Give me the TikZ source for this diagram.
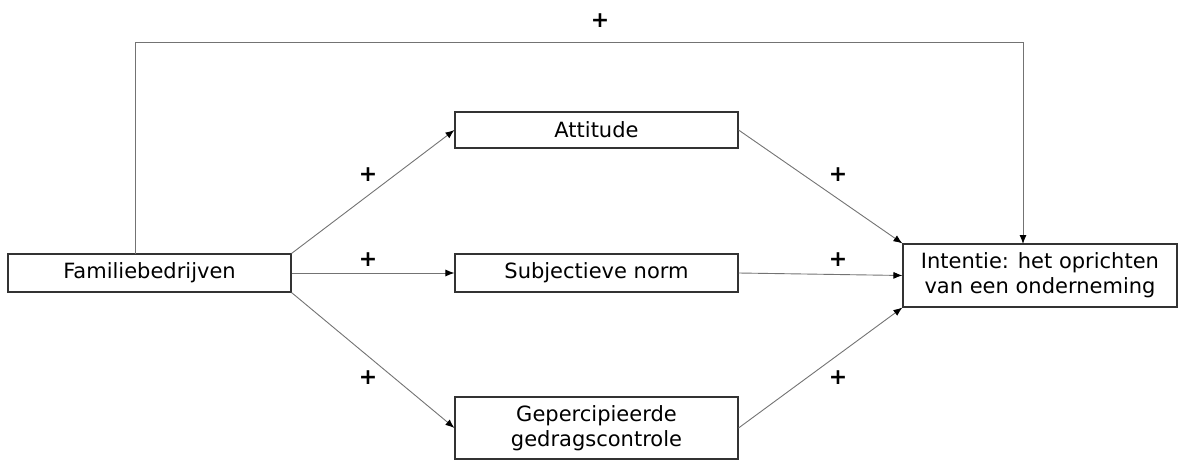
\documentclass[tikz,border=0pt]{standalone}
\usepackage{fontspec}
\setmainfont{DejaVu Sans}
\usetikzlibrary{arrows.meta}
\begin{document}
\begin{tikzpicture}[x=1pt,y=-1pt,
  box/.style={draw=black!80,line width=1.1pt,fill=white,inner sep=0pt,align=center,font=\fontsize{21}{25}\selectfont,minimum width=283pt},
  conn/.style={draw=black!55,line width=0.9pt,-{Latex[length=9pt,width=7pt,color=black]}},
  plus/.style={font=\fontsize{22}{24}\selectfont\bfseries}]
\useasboundingbox (0,0) rectangle (1179,460);
\node[box,minimum height=38pt] (fam) at (149.5,273) {Familiebedrijven};
\node[box,minimum height=36pt] (att) at (596.5,130) {Attitude};
\node[box,minimum height=38pt] (sub) at (596.5,273) {Subjectieve norm};
\node[box,minimum height=62pt] (geb) at (596.5,428) {Gepercipieerde\\gedragscontrole};
\node[box,minimum height=63pt,minimum width=274pt] (int) at (1040,275.5) {Intentie: het oprichten\\van een onderneming};
\coordinate (t1) at (135,254);
\coordinate (t2) at (135,42);
\coordinate (t3) at (1023,42);
\coordinate (t4) at (1023,244);
\draw[conn] (fam.north east) -- (att.west);
\draw[conn] (fam.east) -- (sub.west);
\draw[conn] (fam.south east) -- (geb.west);
\draw[conn] (att.east) -- (int.north west);
\draw[conn] (sub.east) -- (int.west);
\draw[conn] (geb.east) -- (int.south west);
\draw[conn] (t1) -- (t2) -- (t3) -- (t4);
\node[plus] (p0) at (600,21) {+};
\node[plus] (p1) at (368,175) {+};
\node[plus] (p2) at (368,260) {+};
\node[plus] (p3) at (368,378) {+};
\node[plus] (p4) at (838,175) {+};
\node[plus] (p5) at (838,260) {+};
\node[plus] (p6) at (838,378) {+};
\end{tikzpicture}
\end{document}
